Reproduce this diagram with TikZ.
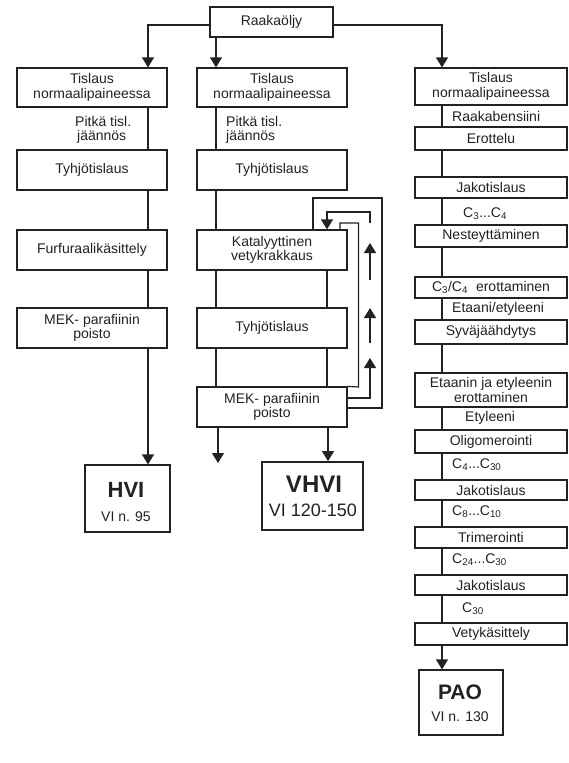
\documentclass[tikz,border=0pt]{standalone}
\usepackage{fontspec}
\setmainfont{Liberation Sans}
\usetikzlibrary{arrows.meta}
\definecolor{ink}{HTML}{222222}
\tikzset{
 ln/.style={draw=ink, line width=1.2pt},
 arr/.style={draw=ink, line width=1.2pt, -{Triangle[length=10pt,width=12pt]}},
 box/.style={draw=ink, line width=1.2pt, fill=white, inner sep=1pt, align=center,
   font=\fontsize{14}{14.5}\selectfont, text=ink},
 lab/.style={inner sep=0pt, align=left, font=\fontsize{14}{14.5}\selectfont, text=ink, anchor=west},
 big/.style={inner sep=0pt, font=\fontsize{22}{22}\selectfont\bfseries, text=ink},
 small/.style={inner sep=0pt, font=\fontsize{14}{14}\selectfont, text=ink},
}
\begin{document}
\begin{tikzpicture}[x=1pt,y=-1pt]
\fill[white] (0,0) rectangle (569,763);
\useasboundingbox (0,0) rectangle (569,763);
% column line positions
\coordinate (cl) at (148,0);
\coordinate (cm) at (216,0);
\coordinate (cm2) at (327,0);
\coordinate (cr) at (442,0);
% top
\node[box, minimum width=123pt, minimum height=30pt] (top) at (271.5,22) {Raakaöljy};
% left column
\node[box, minimum width=150pt, minimum height=39pt] (L1) at (92,87.5) {Tislaus\\normaalipaineessa};
\node[box, minimum width=150pt, minimum height=40pt] (L2) at (92,170) {Tyhjötislaus};
\node[box, minimum width=150pt, minimum height=40pt] (L3) at (92,250) {Furfuraalikäsittely};
\node[box, minimum width=150pt, minimum height=40pt] (L4) at (92,328) {MEK- parafiinin\\poisto};
\node[lab] (tl) at (75,130) {Pitkä tisl.\\\hspace*{2pt}jäännös};
\node[box, minimum width=85pt, minimum height=67pt] (HVI) at (127.5,498.5) {};
\node[big] (HVIt) at (126,490) {HVI};
\node[small] (HVIs) at (126,517) {VI n. 95};
% middle column
\node[box, minimum width=150pt, minimum height=39pt] (M1) at (272,87.5) {Tislaus\\normaalipaineessa};
\node[box, minimum width=150pt, minimum height=40pt] (M2) at (272,170) {Tyhjötislaus};
\node[box, minimum width=150pt, minimum height=40pt] (M3) at (272,250) {Katalyyttinen\\vetykrakkaus};
\node[box, minimum width=150pt, minimum height=40pt] (M4) at (272,328) {Tyhjötislaus};
\node[box, minimum width=150pt, minimum height=40pt] (M5) at (272,407) {MEK- parafiinin\\poisto};
\node[lab] (tm) at (226,130) {Pitkä tisl.\\jäännös};
\node[box, line width=1.8pt, minimum width=101pt, minimum height=68pt] (VHVI) at (312.5,496) {};
\node[big, font=\fontsize{24}{24}\selectfont\bfseries] (VHVIt) at (314,484) {VHVI};
\node[small, font=\fontsize{18}{18}\selectfont] (VHVIs) at (313,510) {VI 120-150};
\coordinate (free) at (218,463);
% right column
\node[box, minimum width=152pt, minimum height=37pt] (R1) at (491,86.5) {Tislaus\\normaalipaineessa};
\node[box, minimum width=152pt, minimum height=23pt] (R2) at (491,138.5) {Erottelu};
\node[box, minimum width=152pt, minimum height=21pt] (R3) at (491,187.5) {Jakotislaus};
\node[box, minimum width=152pt, minimum height=22pt] (R4) at (491,236) {Nesteyttäminen};
\node[box, minimum width=152pt, minimum height=21pt] (R5) at (491,287.5) {C\textsubscript{3}/C\textsubscript{4}\hspace{8pt}erottaminen};
\node[box, minimum width=152pt, minimum height=24pt] (R6) at (491,332) {Syväjäähdytys};
\node[box, minimum width=152pt, minimum height=34pt] (R7) at (491,390) {Etaanin ja etyleenin\\erottaminen};
\node[box, minimum width=152pt, minimum height=23pt] (R8) at (491,441.5) {Oligomerointi};
\node[box, minimum width=152pt, minimum height=20pt] (R9) at (491,490) {Jakotislaus};
\node[box, minimum width=152pt, minimum height=21pt] (R10) at (491,537.5) {Trimerointi};
\node[box, minimum width=152pt, minimum height=20pt] (R11) at (491,585) {Jakotislaus};
\node[box, minimum width=152pt, minimum height=22pt] (R12) at (491,634) {Vetykäsittely};
\node[box, minimum width=84pt, minimum height=65pt] (PAO) at (461,702.5) {};
\node[big, font=\fontsize{21}{21}\selectfont\bfseries] (PAOt) at (460,692) {PAO};
\node[small] (PAOs) at (460,717) {VI n. 130};
% right labels
\node[lab] (r1) at (452,116.5) {Raakabensiini};
\node[lab] (r2) at (463,214) {C\textsubscript{3}...C\textsubscript{4}};
\node[lab] (r3) at (452,309) {Etaani/etyleeni};
\node[lab] (r4) at (465,418) {Etyleeni};
\node[lab] (r5) at (452,465) {C\textsubscript{4}...C\textsubscript{30}};
\node[lab] (r6) at (452,512) {C\textsubscript{8}...C\textsubscript{10}};
\node[lab] (r7) at (452,560) {C\textsubscript{24}...C\textsubscript{30}};
\node[lab] (r8) at (462,609) {C\textsubscript{30}};
% top connectors
\draw[arr] ([yshift=-3pt]top.west) -| (cl |- L1.north);
\draw[arr] (top.south -| cm) -- (cm |- M1.north);
\draw[arr] ([yshift=-3pt]top.east) -| (cr |- R1.north);
% left chain
\draw[ln] (L1.south -| cl) -- (L2.north -| cl);
\draw[ln] (L2.south -| cl) -- (L3.north -| cl);
\draw[ln] (L3.south -| cl) -- (L4.north -| cl);
\draw[arr] (L4.south -| cl) -- (cl |- HVI.north);
% middle chain
\draw[ln] (M1.south -| cm) -- (M2.north -| cm);
\draw[ln] (M2.south -| cm) -- (M3.north -| cm);
\draw[ln] (M3.south -| cm) -- (M4.north -| cm);
\draw[ln] (M3.south -| cm2) -- (M4.north -| cm2);
\draw[ln] (M4.south -| cm) -- (M5.north -| cm);
\draw[ln] (M4.south -| cm2) -- (M5.north -| cm2);
\draw[arr] (M5.south -| free) -- (free);
\draw[arr] (M5.south -| 328,0) -- (VHVI.north -| 328,0);
% recycle loops
\draw[ln] ([yshift=-1pt]M5.east) -- (382,408) -- (382,198) -- (313,198) -- (M3.north -| 313,0);
\draw[ln] (M5.north east) -- (358.5,387) -- (358.5,223) -- (340,223) -- (M3.north -| 340,0);
\draw[arr] ([yshift=9pt]M5.east) -- (370,398) -- (370,358);
\draw[arr] (370,343) -- (370,308);
\draw[arr] (370,280) -- (370,243);
\draw[arr] (370,223) -- (370,212) -- (327,212) -- (M3.north -| 327,0);
% right chain
\draw[ln] (R1.south -| cr) -- (R2.north -| cr);
\draw[ln] (R2.south -| cr) -- (R3.north -| cr);
\draw[ln] (R3.south -| cr) -- (R4.north -| cr);
\draw[ln] (R4.south -| cr) -- (R5.north -| cr);
\draw[ln] (R5.south -| cr) -- (R6.north -| cr);
\draw[ln] (R6.south -| cr) -- (R7.north -| cr);
\draw[ln] (R7.south -| cr) -- (R8.north -| cr);
\draw[ln] (R8.south -| cr) -- (R9.north -| cr);
\draw[ln] (R9.south -| cr) -- (R10.north -| cr);
\draw[ln] (R10.south -| cr) -- (R11.north -| cr);
\draw[ln] (R11.south -| cr) -- (R12.north -| cr);
\draw[arr] (R12.south -| cr) -- (cr |- PAO.north);
\end{tikzpicture}
\end{document}
